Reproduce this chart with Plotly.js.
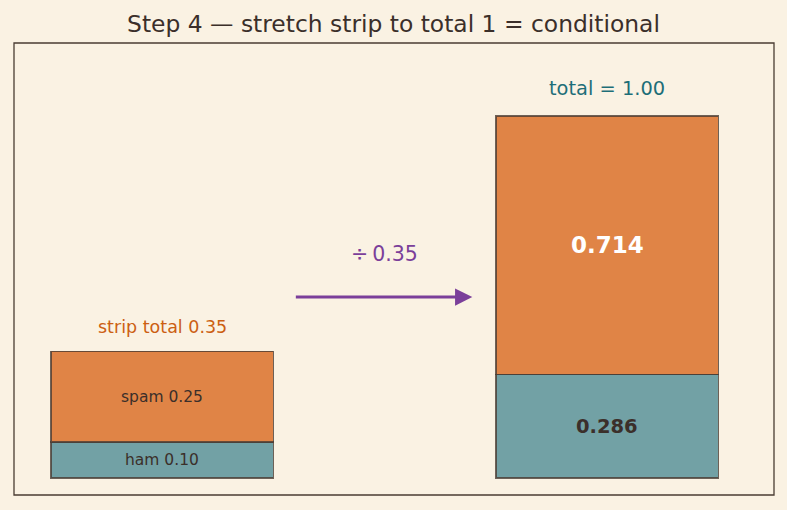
<!DOCTYPE html>
<html>
<head>
<meta charset="utf-8">
<script src="https://cdn.plot.ly/plotly-3.0.1.min.js"></script>
<style>
  html, body { margin: 0; padding: 0; background: #faf2e3; }
  #chart { width: 787px; height: 510px; }
</style>
</head>
<body>
<div id="chart"></div>
<script>
// Bar positions: the observed strip and the rescaled (conditional) strip
const barX = [0, 1];
// Bottom segment (ham) and top segment (spam) for each bar
const hamValues = [0.10, 0.286];
const spamValues = [0.25, 0.714];
const hamLabels = ['ham 0.10', '0.286'];
const spamLabels = ['spam 0.25', '0.714'];
const stripTotal = 0.35;
const stretchedTotal = 1.00;

const FONT = 'DejaVu Sans, sans-serif';
const INK = '#3b2f2a';
const EDGE = 'rgba(74,60,51,0.8)';
const TEAL = '#72a1a5';
const ORANGE = '#e08446';
const PURPLE = '#7b3f9a';

const traces = [
  {
    type: 'bar', x: barX, y: hamValues, width: 0.5,
    marker: { color: TEAL, line: { color: EDGE, width: 1.4 } },
    hoverinfo: 'skip', showlegend: false
  },
  {
    type: 'bar', x: barX, y: spamValues, width: 0.5,
    marker: { color: ORANGE, line: { color: EDGE, width: 1.4 } },
    hoverinfo: 'skip', showlegend: false
  }
];

const annotations = [
  // segment labels at the middle of each segment
  { x: barX[0], y: hamValues[0] / 2, text: hamLabels[0], showarrow: false,
    font: { family: FONT, size: 15.5, color: INK } },
  { x: barX[0], y: hamValues[0] + spamValues[0] / 2, text: spamLabels[0], showarrow: false,
    font: { family: FONT, size: 15.5, color: INK } },
  { x: barX[1], y: hamValues[1] / 2, text: '<b>' + hamLabels[1] + '</b>', showarrow: false,
    font: { family: FONT, size: 19.5, color: INK } },
  { x: barX[1], y: hamValues[1] + spamValues[1] / 2, text: '<b>' + spamLabels[1] + '</b>', showarrow: false,
    font: { family: FONT, size: 23, color: '#ffffff' } },
  // totals above the bars
  { x: barX[0], y: hamValues[0] + spamValues[0], yshift: 24, text: 'strip total ' + stripTotal.toFixed(2),
    showarrow: false, font: { family: FONT, size: 17.5, color: '#cc5f12' } },
  { x: barX[1], y: hamValues[1] + spamValues[1], yshift: 28, text: 'total = ' + stretchedTotal.toFixed(2),
    showarrow: false, font: { family: FONT, size: 19.4, color: '#1d6e78' } },
  // stretch arrow
  { x: 0.697, y: 0.5, ax: 0.297, ay: 0.5, axref: 'x', ayref: 'y', xref: 'x', yref: 'y',
    text: '', showarrow: true, arrowhead: 2, arrowsize: 1.15, arrowwidth: 3,
    arrowcolor: PURPLE, standoff: 0, startstandoff: 0 },
  { x: 0.5, y: 0.5, yshift: 43, text: '\u00f7\u2009' + stripTotal.toFixed(2), showarrow: false,
    font: { family: FONT, size: 20.5, color: PURPLE } }
];

const layout = {
  width: 787, height: 510,
  paper_bgcolor: '#faf2e3', plot_bgcolor: '#faf2e3',
  margin: { l: 14, r: 13, t: 43, b: 15, pad: 0 },
  barmode: 'stack',
  title: { text: 'Step 4 \u2014 stretch strip to total 1 = conditional',
    font: { family: FONT, size: 23.4, color: INK }, x: 0.5, xanchor: 'center',
    y: 0.953, yanchor: 'middle', yref: 'container' },
  xaxis: { range: [-0.333, 1.375], visible: false, fixedrange: true },
  yaxis: { range: [-0.047, 1.202], visible: false, fixedrange: true },
  shapes: [
    { type: 'rect', xref: 'paper', yref: 'paper', x0: 0, x1: 1, y0: 0, y1: 1,
      line: { color: '#4a3c33', width: 1.3 }, fillcolor: 'rgba(0,0,0,0)' }
  ],
  annotations: annotations,
  showlegend: false
};

Plotly.newPlot('chart', traces, layout, { displayModeBar: false, staticPlot: true });
</script>
</body>
</html>
